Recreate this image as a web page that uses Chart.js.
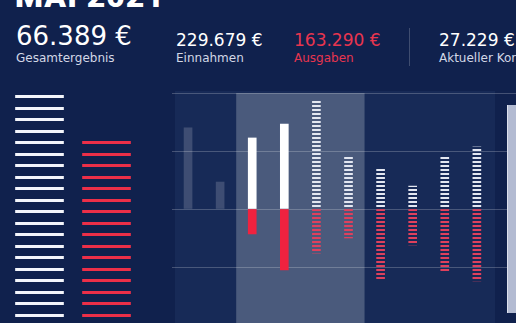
<!DOCTYPE html>
<html>
<head>
<meta charset="utf-8">
<script src="https://cdn.jsdelivr.net/npm/chart.js@4/dist/chart.umd.min.js"></script>
<style>
  html, body { margin: 0; padding: 0; width: 516px; height: 323px; overflow: hidden; background: #10214d; }
  body { position: relative; font-family: "DejaVu Sans", sans-serif; color: #fff; }
  .t { position: absolute; white-space: nowrap; line-height: 1; }
  .title { font-family: Roboto, sans-serif; font-weight: 900; font-size: 32px; left: 15px; top: -20px; letter-spacing: 1px; }
  .big { font-size: 26px; left: 16px; top: 23px; }
  .val { font-size: 17px; top: 32px; }
  .sub { font-size: 12px; top: 52px; color: #d3d8e6; }
  .red { color: #e8354f; }
  #divider { position: absolute; left: 409px; top: 28px; width: 1px; height: 38px; background: rgba(255,255,255,0.2); }
  #panel { position: absolute; left: 175px; top: 91px; width: 320px; height: 240px; background: #172a57; }
  #card { position: absolute; left: 507px; top: 105px; width: 20px; height: 208px; background: #b3bbd2; border-left: 1px solid #dde1ee; }
  #main { position: absolute; left: 172px; top: 93px; }
  #totals { position: absolute; left: 6px; top: 95px; }
</style>
</head>
<body>
<div class="t title">MAI 2021</div>
<div class="t big">66.389 €</div>
<div class="t sub" style="left:16px">Gesamtergebnis</div>
<div class="t val" style="left:176px">229.679 €</div>
<div class="t sub" style="left:176px">Einnahmen</div>
<div class="t val red" style="left:294px">163.290 €</div>
<div class="t sub red" style="left:294px">Ausgaben</div>
<div id="divider"></div>
<div class="t val" style="left:439px">27.229 €</div>
<div class="t sub" style="left:439px">Aktueller Kontostand</div>

<canvas id="totals" width="134" height="230"></canvas>
<div id="panel"></div>
<canvas id="main" width="353" height="232"></canvas>
<div id="card"></div>

<script>
// Balken links: Anzahl Streifen (Einnahmen / Ausgaben gesamt)
const totalLabels = ["Einnahmen", "Ausgaben"];
const totalStripes = [20, 16];

// Verlauf
const categories = ["Jan", "Feb", "Mär", "Apr", "Mai", "Jun", "Jul", "Aug", "Sep", "Okt", "Nov"];
const income = [14000, 4650, 12250, 14650, 18800, 9150, 6900, 3950, 8950, 10700, null];
const expense = [null, null, -4300, -10500, -7600, -5000, -12050, -6200, -10700, -12400, null];
const highlight = [2, 5];

function stripes(color, rows, height) {
  const c = document.createElement("canvas");
  c.width = 1; c.height = height;
  const g = c.getContext("2d");
  g.fillStyle = color;
  rows.forEach(r => g.fillRect(0, r[0], 1, r[1]));
  return g.createPattern(c, "repeat");
}

const whiteBig = stripes("#f4f6fb", [[0, 3], [12, 3]], 23);
const redBig = stripes("#ec2f48", [[0, 3], [12, 3]], 23);

new Chart(document.getElementById("totals"), {
  type: "bar",
  data: {
    labels: totalLabels,
    datasets: [{ data: totalStripes, backgroundColor: [whiteBig, redBig], barThickness: 48 }]
  },
  options: {
    responsive: false, animation: false, events: [],
    plugins: { legend: { display: false }, tooltip: { enabled: false } },
    scales: {
      x: { display: false },
      y: { display: false, min: 0, max: 20 }
    }
  }
});

const whiteDash = stripes("#e3e7f1", [[0, 2]], 4);
const redDash = stripes("#e0405c", [[0, 2]], 4);

const incomeColors = income.map((v, i) => i < 2 ? "rgba(255,255,255,0.17)" : i < 4 ? "#ffffff" : whiteDash);
const expenseColors = expense.map((v, i) => i < 4 ? "#f0223f" : redDash);

const bandPlugin = {
  id: "band",
  beforeDraw(chart) {
    const { ctx, chartArea, scales: { x } } = chart;
    const w = x.getPixelForValue(1) - x.getPixelForValue(0);
    const l = x.getPixelForValue(highlight[0]) - w / 2;
    const r = x.getPixelForValue(highlight[1]) + w / 2;
    ctx.save();
    ctx.fillStyle = "#4a5a7c";
    ctx.fillRect(l, chartArea.top, r - l, chartArea.bottom - chartArea.top);
    ctx.restore();
  }
};

new Chart(document.getElementById("main"), {
  type: "bar",
  data: {
    labels: categories,
    datasets: [
      { label: "Einnahmen", data: income, backgroundColor: incomeColors, barThickness: 8 },
      { label: "Ausgaben", data: expense, backgroundColor: expenseColors, barThickness: 8 }
    ]
  },
  options: {
    responsive: false, animation: false, events: [],
    plugins: { legend: { display: false }, tooltip: { enabled: false } },
    layout: { padding: 0 },
    scales: {
      x: { stacked: true, display: false },
      y: {
        stacked: true, min: -20000, max: 20000,
        ticks: { display: false, stepSize: 10000 },
        grid: { color: "rgba(255,255,255,0.22)", drawTicks: false, tickLength: 0 },
        border: { display: false },
        afterFit: s => { s.width = 0; }
      }
    }
  },
  plugins: [bandPlugin]
});
</script>
</body>
</html>
